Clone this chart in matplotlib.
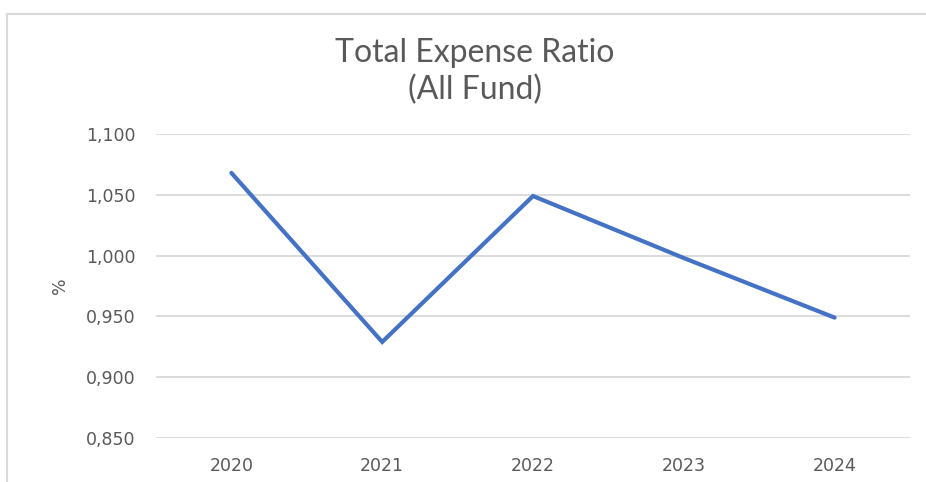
import matplotlib.pyplot as plt
from matplotlib.patches import Rectangle
from matplotlib.ticker import FuncFormatter

# data
years = ["2020", "2021", "2022", "2023", "2024"]
ter = [1.068, 0.929, 1.049, 0.998, 0.949]
yticks = [0.85, 0.90, 0.95, 1.00, 1.05, 1.10]

plt.rcParams['font.family'] = ['DejaVu Sans']
grey = '#595959'

fig = plt.figure(figsize=(9.26, 4.82), dpi=100)
ax = fig.add_axes([156/926, 1 - 438/482, (910-156)/926, (438-134)/482])

x = range(len(years))
ax.plot(x, ter, color='#4472C4', linewidth=3.0, solid_joinstyle='miter', solid_capstyle='round')

ax.set_xlim(-0.5, len(years) - 0.5)
ax.set_ylim(0.85, 1.10)
ax.set_xticks(list(x))
ax.set_xticklabels(years)
ax.set_yticks(yticks)
ax.yaxis.set_major_formatter(FuncFormatter(lambda v, p: f"{v:.3f}".replace('.', ',')))
ax.tick_params(length=0, colors=grey, labelsize=12.5)
ax.tick_params(axis='y', pad=15)
ax.tick_params(axis='x', pad=14)
ax.grid(axis='y', color='#d9d9d9', linewidth=1.3)
ax.set_axisbelow(True)
for s in ax.spines.values():
    s.set_visible(False)
ax.set_ylabel('%', color=grey, fontsize=12.5, labelpad=12)

fig.text(475/926, 1 - 53/482, 'Total Expense Ratio', ha='center', va='center',
         fontsize=23, color=grey, family='Lato')
fig.text(475/926, 1 - 90/482, '(All Fund)', ha='center', va='center',
         fontsize=23, color=grey, family='Lato')

# outer chart frame (cut at right and bottom)
fig.patches.append(Rectangle((7/926, -0.02), 1.05, 1 - 14/482 + 0.02, transform=fig.transFigure,
                             fill=False, edgecolor='#d9d9d9', linewidth=1.5))

fig.savefig('out.png', dpi=100)
